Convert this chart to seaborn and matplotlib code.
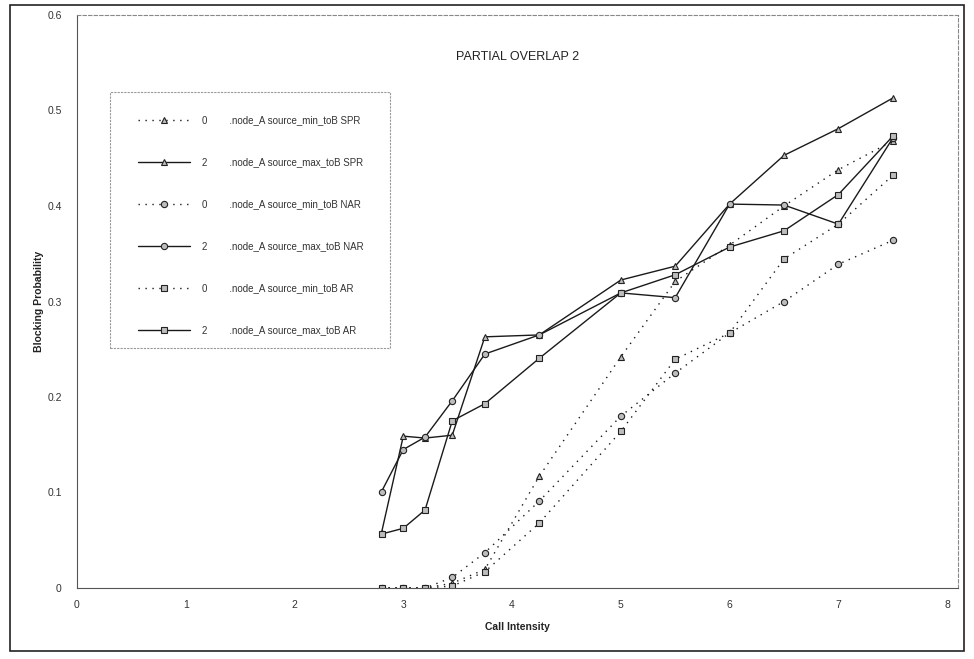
import matplotlib
matplotlib.use("Agg")
import matplotlib.pyplot as plt
import seaborn as sns
import pandas as pd
from matplotlib.patches import Rectangle

sns.set_theme(style="white")
plt.rcParams['font.family'] = ['Liberation Sans', 'DejaVu Sans']

call_intensity = [2.8, 3.0, 3.2, 3.45, 3.75, 4.25, 5.0, 5.5, 6.0, 6.5, 7.0, 7.5]

spr_min = [0.0, 0.0, 0.0, 0.005, 0.0195, 0.117, 0.242, 0.321, 0.359, 0.400, 0.438, 0.468]
spr_max = [0.058, 0.159, 0.157, 0.160, 0.263, 0.265, 0.3225, 0.337, 0.402, 0.453, 0.481, 0.513]
nar_min = [0.0, 0.0, 0.0, 0.011, 0.037, 0.091, 0.180, 0.225, 0.267, 0.300, 0.339, 0.364]
nar_max = [0.101, 0.145, 0.158, 0.196, 0.245, 0.265, 0.309, 0.304, 0.402, 0.401, 0.381, 0.471]
ar_min = [0.0, 0.0, 0.0, 0.002, 0.017, 0.068, 0.164, 0.2395, 0.267, 0.3445, 0.381, 0.432]
ar_max = [0.0565, 0.0625, 0.0817, 0.175, 0.193, 0.2405, 0.309, 0.328, 0.357, 0.374, 0.412, 0.473]

series_labels = [
    "0        .node_A source_min_toB SPR",
    "2        .node_A source_max_toB SPR",
    "0        .node_A source_min_toB NAR",
    "2        .node_A source_max_toB NAR",
    "0        .node_A source_min_toB AR",
    "2        .node_A source_max_toB AR",
]
series_values = [spr_min, spr_max, nar_min, nar_max, ar_min, ar_max]
series_markers = ["^", "^", "o", "o", "s", "s"]
series_dotted = [True, False, True, False, True, False]

title = "PARTIAL OVERLAP 2"
x_label = "Call Intensity"
y_label = "Blocking Probability"
y_ticks = [0, 0.1, 0.2, 0.3, 0.4, 0.5, 0.6]
y_tick_labels = ["0", "0.1", "0.2", "0.3", "0.4", "0.5", "0.6"]
x_ticks = [0, 1, 2, 3, 4, 5, 6, 7, 8]

W, H = 974, 659
fig = plt.figure(figsize=(W/100, H/100), dpi=100)
ax = fig.add_axes([77/W, 1-588/H, (958-77)/W, (588-15)/H])

for lab, vals, mk, dot in zip(series_labels, series_values, series_markers, series_dotted):
    df = pd.DataFrame({"x": call_intensity, "y": vals})
    ls = (0, (1, 4)) if dot else "-"
    sns.lineplot(data=df, x="x", y="y", ax=ax, color="#1a1a1a", linewidth=1.0,
                 linestyle=ls, marker=mk, markersize=4.5, markerfacecolor="#bdbdbd",
                 markeredgecolor="#222222", markeredgewidth=0.8, label=lab)

ax.set_xlim(0, 8.1)
ax.set_ylim(0, 0.6)
ax.set_xticks(x_ticks)
ax.set_xticklabels([str(t) for t in x_ticks])
ax.set_yticks(y_ticks)
ax.set_yticklabels(y_tick_labels)
ax.tick_params(axis="both", labelsize=7.5, colors="#333333", length=3, width=0.7,
               direction="out", pad=8)
ax.tick_params(axis="x", pad=6)
ax.set_xlabel(x_label, fontsize=7.5, fontweight="bold", color="#222222", labelpad=8)
ax.set_ylabel(y_label, fontsize=7.5, fontweight="bold", color="#222222", labelpad=2)
ax.text(0.5, 0.927, title, transform=ax.transAxes, ha="center", va="center",
        fontsize=9, color="#222222")

for side in ["left", "bottom"]:
    ax.spines[side].set_color("#555555")
    ax.spines[side].set_linewidth(0.8)
for side in ["top", "right"]:
    ax.spines[side].set_color("#888888")
    ax.spines[side].set_linewidth(0.8)
    ax.spines[side].set_linestyle((0, (3, 2)))

# legend box
ax.add_patch(Rectangle((110/W, 1-348/H), (390-110)/W, (348-92)/H,
                       transform=fig.transFigure, fill=True, facecolor="white",
                       edgecolor="#999999", linewidth=0.8, linestyle=(0, (2, 1)),
                       zorder=4, clip_on=False))

leg = ax.legend(loc="upper left", bbox_to_anchor=(138/W, 1-115/H),
                bbox_transform=fig.transFigure,
                fontsize=7, frameon=False, labelspacing=3.3,
                handlelength=5.3, handletextpad=1.3, borderpad=0,
                borderaxespad=0)
leg.set_zorder(5)
for t in leg.get_texts():
    t.set_color("#333333")

fig.patches.append(Rectangle((10/W, 1-651/H), (964-10)/W, (651-5)/H,
                             transform=fig.transFigure, fill=False,
                             edgecolor="#222222", linewidth=1.2))

fig.savefig("out.png", dpi=100)
